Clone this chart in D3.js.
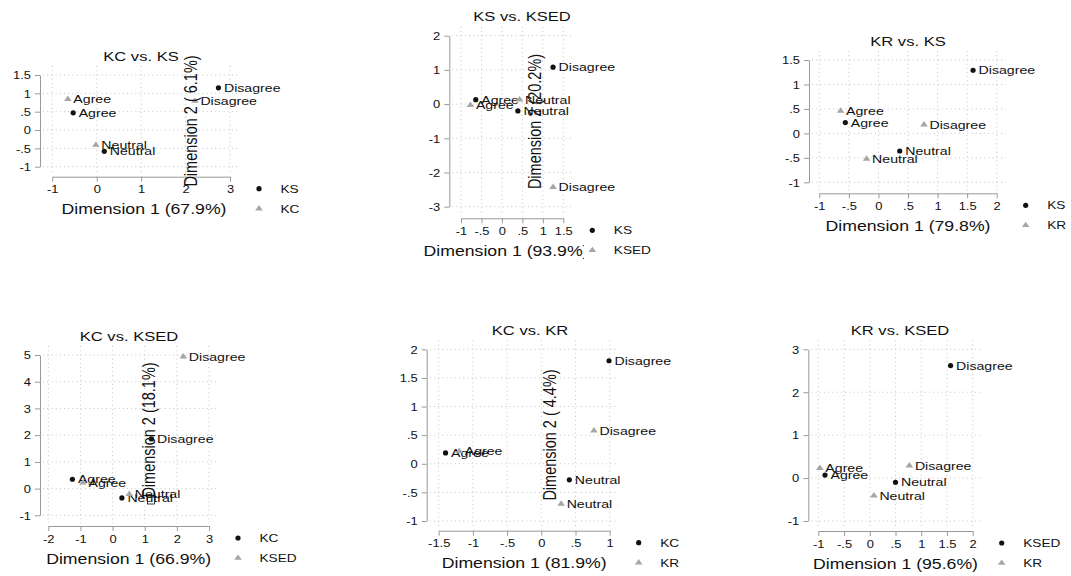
<!DOCTYPE html>
<html>
<head>
<meta charset="utf-8">
<script src="https://cdn.jsdelivr.net/npm/d3@7/dist/d3.min.js"></script>
<style>
  body { margin: 0; background: #fff; }
  text { font-family: "Liberation Sans", Arial, sans-serif; fill: #111; }
</style>
</head>
<body>
<script>
// Category labels for every point
const categories = ['Agree', 'Neutral', 'Disagree'];

// KC vs. KS
const kcKs_KS = [[-0.53, 0.47], [0.17, -0.58], [2.74, 1.15]];
const kcKs_KC = [[-0.65, 0.84], [-0.02, -0.41], [2.21, 0.79]];
// KS vs. KSED
const ksKsed_KS = [[-0.64, 0.13], [0.39, -0.2], [1.25, 1.08]];
const ksKsed_KSED = [[-0.77, -0.03], [0.43, 0.13], [1.25, -2.43]];
// KR vs. KS
const krKs_KS = [[-0.56, 0.22], [0.36, -0.36], [1.6, 1.29]];
const krKs_KR = [[-0.64, 0.46], [-0.2, -0.52], [0.77, 0.18]];
// KC vs. KSED
const kcKsed_KC = [[-1.25, 0.35], [0.29, -0.35], [1.21, 1.86]];
const kcKsed_KSED = [[-0.92, 0.22], [0.52, -0.21], [2.2, 4.94]];
// KC vs. KR
const kcKr_KC = [[-1.4, 0.19], [0.41, -0.28], [0.99, 1.8]];
const kcKr_KR = [[-1.2, 0.22], [0.29, -0.7], [0.77, 0.58]];
// KR vs. KSED
const krKsed_KSED = [[-0.87, 0.07], [0.5, -0.1], [1.57, 2.62]];
const krKsed_KR = [[-0.97, 0.23], [0.08, -0.41], [0.77, 0.29]];

// Tick values and labels
const ticksA = [-1, -0.5, 0, 0.5, 1, 1.5];
const labelsA = ['-1', '-.5', '0', '.5', '1', '1.5'];
const ticksB = [-1, 0, 1, 2, 3];
const labelsB = ['-1', '0', '1', '2', '3'];
const ticksC = [-3, -2, -1, 0, 1, 2];
const labelsC = ['-3', '-2', '-1', '0', '1', '2'];
const ticksD = [-1, -0.5, 0, 0.5, 1, 1.5, 2];
const labelsD = ['-1', '-.5', '0', '.5', '1', '1.5', '2'];
const ticksE = [-2, -1, 0, 1, 2, 3];
const labelsE = ['-2', '-1', '0', '1', '2', '3'];
const ticksF = [-1, 0, 1, 2, 3, 4, 5];
const labelsF = ['-1', '0', '1', '2', '3', '4', '5'];
const ticksG = [-1.5, -1, -0.5, 0, 0.5, 1];
const labelsG = ['-1.5', '-1', '-.5', '0', '.5', '1'];
const ticksH = [-1, 0, 1, 2, 3];
const labelsH = ['-1', '0', '1', '2', '3'];

const xTitles = ['Dimension 1 (67.9%)', 'Dimension 1 (93.9%)', 'Dimension 1 (79.8%)',
  'Dimension 1 (66.9%)', 'Dimension 1 (81.9%)', 'Dimension 1 (95.6%)'];
const yTitles = ['Dimension 2 ( 6.1%)', 'Dimension 2 (20.2%)', null,
  'Dimension 2 (18.1%)', 'Dimension 2 ( 4.4%)', null];

// the picture is stretched sideways, so is the text
const SX = 1.22;
const dark = '#111';
const light = '#a6a6a6';

const panels = [
  { title: 'KC vs. KS', names: ['KS', 'KC'], s1: kcKs_KS, s2: kcKs_KC,
    xt: ticksB, xl: labelsB, yt: ticksA, yl: labelsA,
    xr: [52.3, 230], yr: [166.7, 75], ax: 40, ay: 176.7, tx: 141, xtx: 144,
    yTitle: [197, 121] },
  { title: 'KS vs. KSED', names: ['KS', 'KSED'], s1: ksKsed_KS, s2: ksKsed_KSED,
    xt: ticksA, xl: labelsA, yt: ticksC, yl: labelsC,
    xr: [461, 563.3], yr: [206.7, 35.7], ax: 449.3, ay: 218.3, tx: 522, xtx: 506,
    yTitle: [541, 121.5], clipX: 584 },
  { title: 'KR vs. KS', names: ['KS', 'KR'], s1: krKs_KS, s2: krKs_KR,
    xt: ticksD, xl: labelsD, yt: ticksA, yl: labelsA,
    xr: [819.3, 996.7], yr: [182.3, 60], ax: 809, ay: 193.3, tx: 908 },
  { title: 'KC vs. KSED', names: ['KC', 'KSED'], s1: kcKsed_KC, s2: kcKsed_KSED,
    xt: ticksE, xl: labelsE, yt: ticksF, yl: labelsF,
    xr: [48.3, 209], yr: [515.3, 355], ax: 40, ay: 526, tx: 129,
    yTitle: [155, 430], box: true },
  { title: 'KC vs. KR', names: ['KC', 'KR'], s1: kcKr_KC, s2: kcKr_KR,
    xt: ticksG, xl: labelsG, yt: ticksD, yl: labelsD,
    xr: [438.7, 609.7], yr: [521, 349.3], ax: 426.7, ay: 530.7, tx: 530,
    yTitle: [556, 435] },
  { title: 'KR vs. KSED', names: ['KSED', 'KR'], s1: krKsed_KSED, s2: krKsed_KR,
    xt: ticksD, xl: labelsD, yt: ticksH, yl: labelsH,
    xr: [818.3, 972.7], yr: [521, 349.3], ax: 808.3, ay: 531, tx: 900 }
];

const svg = d3.select('body').append('svg')
  .attr('width', 1071)
  .attr('height', 576);

function label(g, x, y, s, size, anchor, rotate) {
  return g.append('text')
    .attr('transform', `translate(${x},${y}) scale(${SX},1)` + (rotate ? ' rotate(-90)' : ''))
    .attr('text-anchor', anchor)
    .style('font-size', size + 'px')
    .text(s);
}

const tri = d3.symbol().type(d3.symbolTriangle).size(17);

panels.forEach((p, i) => {
  const g = svg.append('g');
  const x = d3.scaleLinear().domain(d3.extent(p.xt)).range(p.xr);
  const y = d3.scaleLinear().domain(d3.extent(p.yt)).range(p.yr);

  // Dotted grid
  g.append('g').selectAll('line').data(p.yt).enter().append('line')
    .attr('x1', p.ax + 3).attr('x2', p.xr[1] + 9)
    .attr('y1', d => y(d)).attr('y2', d => y(d));
  g.append('g').selectAll('line').data(p.xt).enter().append('line')
    .attr('x1', d => x(d)).attr('x2', d => x(d))
    .attr('y1', p.yr[1] - 9).attr('y2', p.ay - 3);
  g.selectAll('line')
    .attr('stroke', '#c4c4c4')
    .attr('stroke-width', 1)
    .attr('stroke-dasharray', '1,3.2');

  // Axes
  const xAxis = d3.axisBottom(x).tickValues(p.xt).tickFormat((d, k) => p.xl[k])
    .tickSize(5).tickSizeOuter(0).tickPadding(4);
  const yAxis = d3.axisLeft(y).tickValues(p.yt).tickFormat((d, k) => p.yl[k])
    .tickSize(5).tickSizeOuter(0).tickPadding(4);
  const gx = g.append('g').attr('transform', `translate(0,${p.ay})`).call(xAxis);
  const gy = g.append('g').attr('transform', `translate(${p.ax},0)`).call(yAxis);
  [gx, gy].forEach(a => {
    a.select('.domain').attr('stroke', '#9a9a9a');
    a.selectAll('.tick line').attr('stroke', '#9a9a9a');
    a.selectAll('.tick text')
      .attr('fill', dark)
      .style('font-size', '10.6px')
      .style('font-family', '"Liberation Sans", Arial, sans-serif');
  });
  gx.selectAll('.tick text').attr('transform', `scale(${SX},1)`);
  gy.selectAll('.tick text').attr('x', -9 / SX).attr('dy', '0.36em')
    .attr('transform', `scale(${SX},1)`);

  // Points and labels
  [[p.s1, 'dot'], [p.s2, 'tri']].forEach(([data, kind]) => {
    const pts = g.append('g');
    if (kind === 'dot') {
      pts.selectAll('circle').data(data).enter().append('circle')
        .attr('cx', d => x(d[0])).attr('cy', d => y(d[1]))
        .attr('r', 2.6).attr('fill', dark);
    } else {
      pts.selectAll('path').data(data).enter().append('path')
        .attr('d', tri)
        .attr('transform', d => `translate(${x(d[0])},${y(d[1])}) scale(${SX},1)`)
        .attr('fill', light);
    }
    data.forEach((d, k) => label(pts, x(d[0]) + 5.5, y(d[1]) + 4, categories[k], 11.6, 'start'));
  });

  // Title
  label(g, p.tx, p.yr[1] - 14.5, p.title, 13.6, 'middle');

  // Axis titles
  let holder = g;
  if (p.clipX) {
    svg.append('clipPath').attr('id', 'clip' + i)
      .append('rect').attr('x', 0).attr('y', 0).attr('width', p.clipX).attr('height', 576);
    holder = g.append('g').attr('clip-path', `url(#clip${i})`);
  }
  const xtx = p.xtx !== undefined ? p.xtx : (p.xr[0] + p.xr[1]) / 2;
  label(holder, xtx, p.ay + 37.5, xTitles[i], 14.5, 'middle');
  if (p.yTitle) {
    label(g, p.yTitle[0], p.yTitle[1], yTitles[i], 14.5, 'middle', true);
  }
  if (p.box) {
    g.append('rect')
      .attr('x', p.yTitle[0] - 7.5).attr('y', p.yTitle[1] + 67)
      .attr('width', 7).attr('height', 7)
      .attr('fill', 'none').attr('stroke', dark).attr('stroke-width', 0.8);
  }

  // Legend
  const lx = p.xr[1] + 29;
  g.append('circle').attr('cx', lx).attr('cy', p.ay + 12).attr('r', 2.6).attr('fill', dark);
  g.append('path').attr('d', tri)
    .attr('transform', `translate(${lx},${p.ay + 32}) scale(${SX},1)`)
    .attr('fill', light);
  label(g, lx + 21.5, p.ay + 12 + 4, p.names[0], 11.2, 'start');
  label(g, lx + 21.5, p.ay + 32 + 4, p.names[1], 11.2, 'start');
});
</script>
</body>
</html>
